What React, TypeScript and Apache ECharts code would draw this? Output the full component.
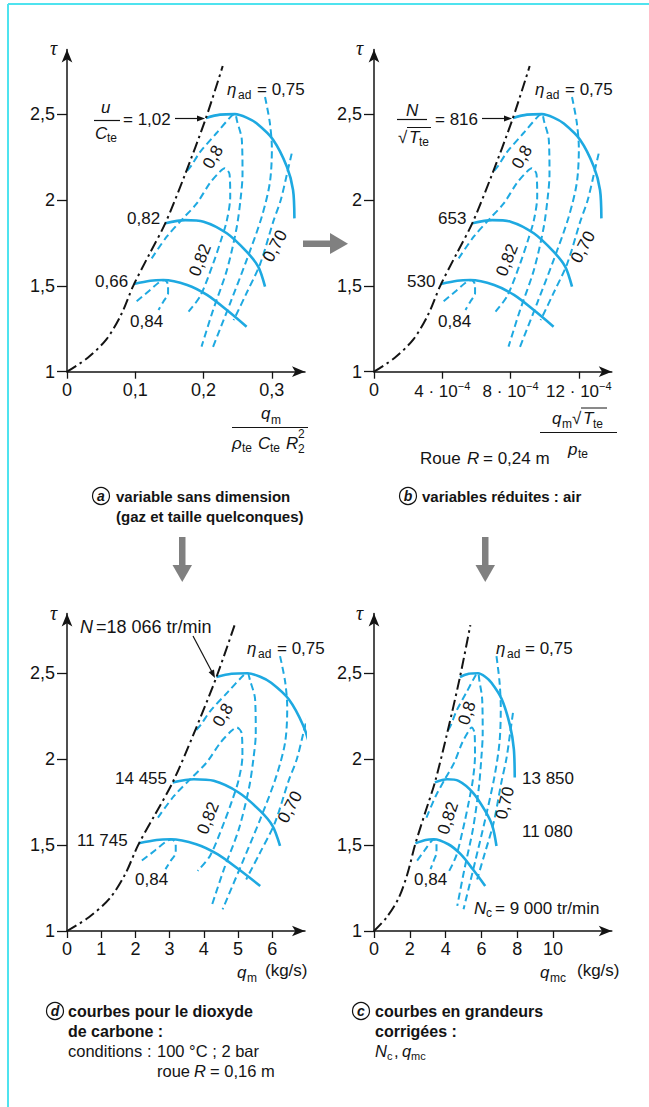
import React, { useEffect, useRef } from 'react';
import * as echarts from 'echarts';

// ---------- shared τ values (ordinate) of every curve ----------
const tauTicks = [1, 1.5, 2, 2.5];
const tauSurge = [1, 1.08, 1.19, 1.33, 1.5, 1.68, 1.865, 2.14, 2.478, 2.78];
const tauSpeedHigh = [2.478, 2.497, 2.5, 2.48, 2.445, 2.35, 2.194, 2.058, 1.893];
const tauSpeedMid = [1.865, 1.883, 1.874, 1.806, 1.699, 1.612, 1.495];
const tauSpeedLow = [1.511, 1.53, 1.534, 1.505, 1.447, 1.359, 1.262];
const tauEff084 = [1.41, 1.47, 1.524, 1.533, 1.505, 1.457, 1.408, 1.36];
const tauEff082 = [1.66, 1.786, 1.893, 1.98, 2.097, 2.165, 2.185, 2.15, 2.02, 1.88, 1.76, 1.63, 1.44, 1.35];
const tauEff080 = [2.17, 2.2, 2.28, 2.39, 2.49, 2.5, 2.46, 2.35, 2.15, 2.0, 1.83, 1.59, 1.36, 1.146];
const tauEff075 = [2.6, 2.45, 2.3, 2.1, 1.9, 1.65, 1.4, 1.126];
const tauEff070 = [2.27, 2.15, 2.0, 1.874, 1.63, 1.45, 1.3];

// ---------- panel a : q_m / (rho C R^2) ----------
const ticksA = [0, 0.1, 0.2, 0.3];
const surgeA = [0, 0.03, 0.058, 0.079, 0.097, 0.12, 0.144, 0.172, 0.2035, 0.228];
const highA = [0.2035, 0.224, 0.246, 0.263, 0.278, 0.302, 0.322, 0.331, 0.333];
const midA = [0.144, 0.173, 0.2, 0.234, 0.263, 0.28, 0.29];
const lowA = [0.098, 0.122, 0.141, 0.176, 0.205, 0.234, 0.263];
const e084A = [0.102, 0.12, 0.136, 0.143, 0.148, 0.148, 0.141, 0.134];
const e082A = [0.124, 0.146, 0.17, 0.19, 0.209, 0.224, 0.231, 0.238, 0.239, 0.234, 0.225, 0.214, 0.195, 0.178];
const e080A = [0.176, 0.182, 0.195, 0.219, 0.241, 0.246, 0.249, 0.256, 0.257, 0.254, 0.248, 0.234, 0.214, 0.197];
const e075A = [0.29, 0.297, 0.3, 0.297, 0.285, 0.263, 0.239, 0.212];
const e070A = [0.329, 0.322, 0.313, 0.302, 0.283, 0.262, 0.244];

// ---------- panel b : q_m sqrt(T)/p  (unit 1e-4) ----------
const ticksB = [0, 4, 8, 12];
const surgeB = [0, 1.2, 2.32, 3.16, 3.88, 4.8, 5.76, 6.88, 8.14, 9.12];
const highB = [8.14, 8.96, 9.84, 10.52, 11.12, 12.08, 12.88, 13.24, 13.32];
const midB = [5.76, 6.92, 8.0, 9.36, 10.52, 11.2, 11.6];
const lowB = [3.92, 4.88, 5.64, 7.04, 8.2, 9.36, 10.52];
const e084B = [4.08, 4.8, 5.44, 5.72, 5.92, 5.92, 5.64, 5.36];
const e082B = [4.96, 5.84, 6.8, 7.6, 8.36, 8.96, 9.24, 9.52, 9.56, 9.36, 9.0, 8.56, 7.8, 7.12];
const e080B = [7.04, 7.28, 7.8, 8.76, 9.64, 9.84, 9.96, 10.24, 10.28, 10.16, 9.92, 9.36, 8.56, 7.88];
const e075B = [11.6, 11.88, 12.0, 11.88, 11.4, 10.52, 9.56, 8.48];
const e070B = [13.16, 12.88, 12.52, 12.08, 11.32, 10.48, 9.76];

// ---------- panel d : q_m (kg/s), CO2 ----------
const ticksD = [0, 1, 2, 3, 4, 5, 6];
const surgeD = [0, 0.64, 1.25, 1.7, 2.08, 2.58, 3.09, 3.69, 4.37, 4.9];
const highD = [4.37, 4.81, 5.28, 5.65, 5.97, 6.48, 6.91, 7.11, 7.15];
const midD = [3.09, 3.71, 4.29, 5.02, 5.65, 6.01, 6.23];
const lowD = [2.1, 2.62, 3.03, 3.78, 4.4, 5.02, 5.65];
const e084D = [2.19, 2.58, 2.92, 3.07, 3.18, 3.18, 3.03, 2.88];
const e082D = [2.66, 3.13, 3.65, 4.08, 4.49, 4.81, 4.96, 5.11, 5.13, 5.02, 4.83, 4.59, 4.19, 3.82];
const e080D = [3.78, 3.91, 4.19, 4.7, 5.17, 5.28, 5.35, 5.5, 5.52, 5.45, 5.32, 5.02, 4.59, 4.23];
const e075D = [6.23, 6.38, 6.44, 6.38, 6.12, 5.65, 5.13, 4.55];
const e070D = [7.06, 6.91, 6.72, 6.48, 6.08, 5.63, 5.24];

// ---------- panel c : q_mc (kg/s), corrected ----------
const ticksC = [0, 2, 4, 6, 8, 10];
const surgeC = [0, 0.71, 1.37, 1.86, 2.29, 2.83, 3.4, 4.06, 4.8, 5.38];
const highC = [4.8, 5.29, 5.81, 6.21, 6.56, 7.13, 7.6, 7.81, 7.86];
const midC = [3.4, 4.08, 4.72, 5.52, 6.21, 6.61, 6.84];
const lowC = [2.31, 2.88, 3.33, 4.15, 4.84, 5.52, 6.21];
const e084C = [2.41, 2.83, 3.21, 3.37, 3.49, 3.49, 3.33, 3.16];
const e082C = [2.93, 3.45, 4.01, 4.48, 4.93, 5.29, 5.45, 5.62, 5.64, 5.52, 5.31, 5.05, 4.6, 4.2];
const e080C = [4.15, 4.3, 4.6, 5.17, 5.69, 5.81, 5.88, 6.04, 6.07, 5.99, 5.85, 5.52, 5.05, 4.65];
const e075C = [6.84, 7.01, 7.08, 7.01, 6.73, 6.21, 5.64, 5.0];
const e070C = [7.76, 7.6, 7.39, 7.13, 6.68, 6.18, 5.76];

const FONT = '"Liberation Sans", Arial, Helvetica, sans-serif';
const SERIF = '"Liberation Serif", "DejaVu Serif", serif';
const INK = '#141414';
const BLUE = '#1ea9e1';
const GRAY = '#808080';
const FRAME = '#4fe3ef';

const comma = (v: number) => String(v).replace('.', ',');

function txt(x: number, y: number, text: string, o: any = {}) {
  return {
    type: 'text',
    x,
    y,
    rotation: o.rot ? (o.rot * Math.PI) / 180 : 0,
    z: 100,
    style: {
      text,
      fill: o.color || INK,
      fontFamily: o.family || FONT,
      fontSize: o.size || 17,
      fontStyle: o.italic ? 'italic' : 'normal',
      fontWeight: o.bold ? 'bold' : 'normal',
      align: o.align || 'left',
      verticalAlign: 'middle',
      textAlign: o.align || 'left',
      textVerticalAlign: 'middle',
    },
  };
}
function seg(x1: number, y1: number, x2: number, y2: number, w = 1.2, c = INK) {
  return { type: 'line', z: 100, shape: { x1, y1, x2, y2 }, style: { stroke: c, lineWidth: w } };
}
function tri(points: number[][], c = INK) {
  return { type: 'polygon', z: 100, shape: { points }, style: { fill: c } };
}
function circled(cx: number, cy: number, letter: string) {
  return [
    { type: 'circle', z: 100, shape: { cx, cy, r: 8.5 }, style: { fill: 'none', stroke: INK, lineWidth: 1.2 } },
    txt(cx, cy, letter, { align: 'center', italic: true, bold: true, size: 14 }),
  ];
}

function xAxisOpt(gi: number, max: number, ticks: number[], fmt: any) {
  return {
    type: 'value',
    gridIndex: gi,
    min: 0,
    max,
    axisLine: {
      show: true,
      onZero: false,
      symbol: ['none', 'arrow'],
      symbolSize: [8, 13],
      lineStyle: { color: INK, width: 1.5 },
    },
    axisTick: { show: true, inside: false, length: 7, customValues: ticks, lineStyle: { color: INK, width: 1.3 } },
    axisLabel: {
      show: true,
      customValues: ticks,
      formatter: fmt,
      fontSize: 18,
      fontFamily: FONT,
      color: INK,
      margin: 9,
      rich: {
        n: { fontSize: 17, fontFamily: FONT, color: INK, lineHeight: 22 },
        s: { fontSize: 11, fontFamily: FONT, color: INK, lineHeight: 22, verticalAlign: 'top' },
      },
    },
    splitLine: { show: false },
  };
}
function yAxisOpt(gi: number, max: number) {
  return {
    type: 'value',
    gridIndex: gi,
    min: 1,
    max,
    axisLine: {
      show: true,
      onZero: false,
      symbol: ['none', 'arrow'],
      symbolSize: [8, 13],
      lineStyle: { color: INK, width: 1.5 },
    },
    axisTick: { show: true, inside: false, length: 10, customValues: tauTicks, lineStyle: { color: INK, width: 1.3 } },
    axisLabel: {
      show: true,
      customValues: tauTicks,
      formatter: (v: number) => comma(v),
      fontSize: 18,
      fontFamily: FONT,
      color: INK,
      margin: 12,
    },
    splitLine: { show: false },
  };
}

function curve(xs: number[], ys: number[], gi: number, kind: 'surge' | 'speed' | 'eff') {
  const lineStyle =
    kind === 'surge'
      ? { color: INK, width: 2, type: [11, 4, 2.5, 4] }
      : kind === 'speed'
      ? { color: BLUE, width: 2.6, type: 'solid' }
      : { color: BLUE, width: 2, type: [7, 4] };
  return {
    type: 'line',
    xAxisIndex: gi,
    yAxisIndex: gi,
    data: xs.map((x, i) => [x, ys[i]]),
    showSymbol: false,
    symbol: 'none',
    smooth: 0.3,
    clip: false,
    silent: true,
    z: kind === 'surge' ? 5 : kind === 'speed' ? 4 : 3,
    lineStyle,
  };
}

function panelSeries(gi: number, s: number[][]) {
  const [surge, high, mid, low, e84, e82, e80, e75, e70] = s;
  return [
    curve(e84, tauEff084, gi, 'eff'),
    curve(e82, tauEff082, gi, 'eff'),
    curve(e80, tauEff080, gi, 'eff'),
    curve(e75, tauEff075, gi, 'eff'),
    curve(e70, tauEff070, gi, 'eff'),
    curve(high, tauSpeedHigh, gi, 'speed'),
    curve(mid, tauSpeedMid, gi, 'speed'),
    curve(low, tauSpeedLow, gi, 'speed'),
    curve(surge, tauSurge, gi, 'surge'),
  ];
}

function effLabel(x: number, y: number, x2: number, x3: number) {
  return [
    txt(x, y, 'η', { italic: true }),
    txt(x2, y + 6, 'ad', { size: 12 }),
    txt(x3, y, '= 0,75'),
  ];
}

function buildGraphics() {
  const g: any[] = [];
  // frame
  g.push(seg(8, 4, 649, 4, 2, FRAME), seg(8, 4, 8, 1107, 2, FRAME));

  // ---- panel a ----
  g.push(txt(50, 48, 'τ', { italic: true, family: SERIF, size: 20 }));
  g.push(...effLabel(227, 89, 238, 257));
  g.push(txt(101, 107, 'u', { italic: true }), seg(94, 120.5, 120, 120.5), txt(95, 133, 'C', { italic: true }), txt(107, 138, 'te', { size: 12 }));
  g.push(txt(123, 119, '= 1,02'), seg(175, 118.5, 199, 118.5), tri([[205, 118.5], [197, 115.5], [197, 121.5]]));
  g.push(txt(127, 218, '0,82'), txt(95, 281, '0,66'), txt(130, 321, '0,84'));
  g.push(txt(213, 157, '0,8', { rot: 60, align: 'center' }), txt(200, 260, '0,82', { rot: 68, align: 'center' }), txt(275, 246, '0,70', { rot: 62, align: 'center' }));
  g.push(txt(261, 413, 'q', { italic: true }), txt(271, 420, 'm', { size: 12 }), seg(232, 427.5, 308, 427.5));
  g.push(txt(232, 443, 'ρ', { italic: true }), txt(242, 448, 'te', { size: 12 }), txt(258, 443, 'C', { italic: true }), txt(270, 448, 'te', { size: 12 }));
  g.push(txt(286, 443, 'R', { italic: true }), txt(298, 434, '2', { size: 12 }), txt(298, 449, '2', { size: 12 }));

  // ---- panel b ----
  g.push(txt(356, 48, 'τ', { italic: true, family: SERIF, size: 20 }));
  g.push(...effLabel(535, 89, 546, 565));
  g.push(txt(406, 110, 'N', { italic: true }), seg(397, 119.5, 427, 119.5), txt(398, 137, '√'), seg(407, 127.5, 431, 127.5, 1));
  g.push(txt(409, 137, 'T', { italic: true }), txt(419, 142, 'te', { size: 12 }));
  g.push(txt(435, 119, '= 816'), seg(482, 118.5, 506, 118.5), tri([[512, 118.5], [504, 115.5], [504, 121.5]]));
  g.push(txt(438, 218, '653'), txt(407, 281, '530'), txt(438, 321, '0,84'));
  g.push(txt(522, 157, '0,8', { rot: 60, align: 'center' }), txt(507, 260, '0,82', { rot: 68, align: 'center' }), txt(583, 247, '0,70', { rot: 62, align: 'center' }));
  g.push(txt(552, 418, 'q', { italic: true }), txt(562, 424, 'm', { size: 12 }), txt(572, 418, '√'), seg(581, 408, 607, 408, 1));
  g.push(txt(583, 418, 'T', { italic: true }), txt(593, 424, 'te', { size: 12 }), seg(540, 432.5, 617, 432.5));
  g.push(txt(568, 449, 'p', { italic: true }), txt(578, 454, 'te', { size: 12 }));
  g.push(txt(420, 458, 'Roue'), txt(467, 458, 'R', { italic: true }), txt(483, 458, '= 0,24 m'));

  // ---- gray arrows ----
  g.push({ type: 'rect', z: 100, shape: { x: 303, y: 240.5, width: 29, height: 6.5 }, style: { fill: GRAY } });
  g.push(tri([[330, 233], [348, 243.7], [330, 254]], GRAY));
  for (const cx of [182, 485]) {
    g.push({ type: 'rect', z: 100, shape: { x: cx - 3, y: 537, width: 6.5, height: 29 }, style: { fill: GRAY } });
    g.push(tri([[cx - 9.5, 565], [cx + 10, 565], [cx + 0.25, 582]], GRAY));
  }

  // ---- captions a / b ----
  g.push(...circled(101, 496, 'a'));
  g.push(txt(116, 496, 'variable sans dimension', { bold: true, size: 15 }), txt(116, 516, '(gaz et taille quelconques)', { bold: true, size: 15 }));
  g.push(...circled(408, 496, 'b'));
  g.push(txt(422, 496, 'variables réduites : air', { bold: true, size: 15 }));

  // ---- panel d ----
  g.push(txt(50, 613, 'τ', { italic: true, family: SERIF, size: 20 }));
  g.push(txt(80, 627, 'N', { italic: true, size: 18 }), txt(96, 627, '=18 066 tr/min', { size: 18 }));
  g.push(seg(193, 636, 212, 672), tri([[215, 678], [208.6, 672.3], [214, 669.5]]));
  g.push(...effLabel(247, 648, 258, 277));
  g.push(txt(115, 778, '14 455'), txt(77, 840, '11 745'), txt(135, 879, '0,84'));
  g.push(txt(223, 715, '0,8', { rot: 60, align: 'center' }), txt(208, 818, '0,82', { rot: 68, align: 'center' }), txt(290, 807, '0,70', { rot: 62, align: 'center' }));
  g.push(txt(237, 972, 'q', { italic: true }), txt(247, 978, 'm', { size: 12 }), txt(265, 970, '(kg/s)'));

  // ---- panel c ----
  g.push(txt(356, 613, 'τ', { italic: true, family: SERIF, size: 20 }));
  g.push(...effLabel(496, 648, 507, 525));
  g.push(txt(522, 778, '13 850'), txt(522, 831, '11 080'), txt(414, 879, '0,84'));
  g.push(txt(474, 908, 'N', { italic: true }), txt(486, 913, 'c', { size: 12 }), txt(495, 908, '= 9 000 tr/min'));
  g.push(txt(467, 713, '0,8', { rot: 72, align: 'center' }), txt(448, 818, '0,82', { rot: 72, align: 'center' }), txt(505, 803, '0,70', { rot: 76, align: 'center' }));
  g.push(txt(540, 972, 'q', { italic: true }), txt(550, 978, 'mc', { size: 12 }), txt(577, 970, '(kg/s)'));

  // ---- captions d / c ----
  g.push(...circled(55, 1011, 'd'));
  g.push(txt(68, 1011, 'courbes pour le dioxyde', { bold: true, size: 16 }), txt(68, 1031, 'de carbone :', { bold: true, size: 16 }));
  g.push(txt(68, 1051, 'conditions :', { size: 16.5 }), txt(157, 1051, '100 °C ; 2 bar', { size: 16.5 }));
  g.push(txt(157, 1071, 'roue', { size: 16.5 }), txt(194, 1071, 'R', { size: 16.5, italic: true }), txt(210, 1071, '= 0,16 m', { size: 16.5 }));
  g.push(...circled(361, 1011, 'c'));
  g.push(txt(375, 1011, 'courbes en grandeurs', { bold: true, size: 16 }), txt(375, 1031, 'corrigées :', { bold: true, size: 16 }));
  g.push(txt(375, 1051, 'N', { size: 16.5, italic: true }), txt(387, 1056, 'c', { size: 11 }), txt(394, 1051, ',', { size: 16.5 }));
  g.push(txt(402, 1051, 'q', { size: 16.5, italic: true }), txt(411, 1056, 'mc', { size: 11 }));
  return g;
}

export default function App() {
  const ref = useRef<HTMLDivElement>(null);
  useEffect(() => {
    if (!ref.current) return;
    const chart = echarts.init(ref.current, undefined, { renderer: 'svg' });
    const option: any = {
      animation: false,
      backgroundColor: '#ffffff',
      grid: [
        { left: 67, top: 49.5, width: 238, height: 322.2 },
        { left: 374, top: 49.5, width: 237.8, height: 322.2 },
        { left: 67, top: 613.5, width: 238, height: 317.5 },
        { left: 374, top: 613.5, width: 237.8, height: 317.5 },
      ],
      xAxis: [
        xAxisOpt(0, 0.3485, ticksA, (v: number) => comma(v)),
        xAxisOpt(1, 13.93, ticksB, (v: number) => (v === 0 ? '0' : `{n|${v} · 10}{s|−4}`)),
        xAxisOpt(2, 6.96, ticksD, (v: number) => String(v)),
        xAxisOpt(3, 13.28, ticksC, (v: number) => String(v)),
      ],
      yAxis: [yAxisOpt(0, 2.8765), yAxisOpt(1, 2.8765), yAxisOpt(2, 2.848), yAxisOpt(3, 2.848)],
      series: [
        ...panelSeries(0, [surgeA, highA, midA, lowA, e084A, e082A, e080A, e075A, e070A]),
        ...panelSeries(1, [surgeB, highB, midB, lowB, e084B, e082B, e080B, e075B, e070B]),
        ...panelSeries(2, [surgeD, highD, midD, lowD, e084D, e082D, e080D, e075D, e070D]),
        ...panelSeries(3, [surgeC, highC, midC, lowC, e084C, e082C, e080C, e075C, e070C]),
      ],
      graphic: { elements: buildGraphics() },
    };
    chart.setOption(option);
    return () => chart.dispose();
  }, []);
  return <div ref={ref} style={{ position: 'absolute', left: 0, top: 0, width: 649, height: 1107 }} />;
}
